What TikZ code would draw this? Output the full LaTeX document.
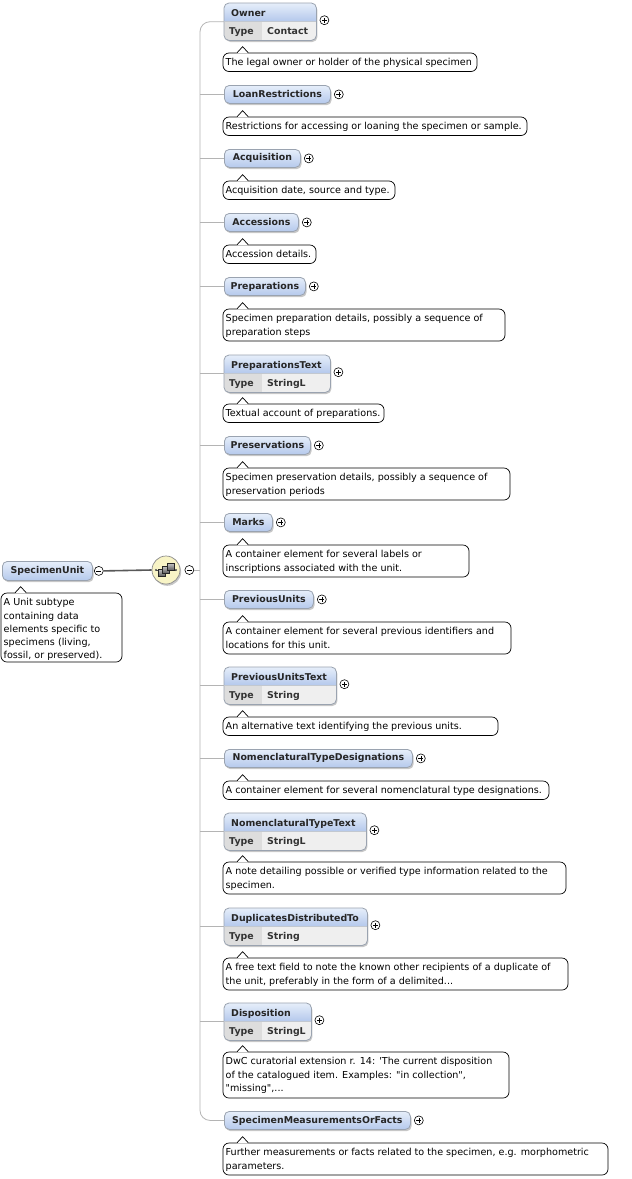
\documentclass[tikz,border=0pt]{standalone}
\usepackage{fontspec}
\setmainfont{DejaVu Sans}
\newfontfamily\btf{DejaVu Sans}
\usetikzlibrary{shadows,fit,calc}
\definecolor{hdrtop}{HTML}{E6EEFA}
\definecolor{hdrbot}{HTML}{B5C9EC}
\definecolor{hdrborder}{HTML}{9AA3B0}
\definecolor{typerow}{HTML}{EFEFEF}
\definecolor{typecell}{HTML}{DDDDDD}
\definecolor{conngray}{HTML}{B4B4B4}
\definecolor{seqfill}{HTML}{F8F4C6}
\newcommand\btextfont{\btf\fontsize{9.6}{13.3}\selectfont}
\newcommand\hfont{\fontsize{9.4}{11}\selectfont\bfseries}
\tikzset{
  x=1pt, y=-1pt,
  myshadow/.style={drop shadow={shadow xshift=1.2pt, shadow yshift=-1.8pt, fill=black, opacity=0.22}},
  hdr/.style={draw=hdrborder, line width=0.8pt, rounded corners=5pt, top color=hdrtop, bottom color=hdrbot,
    minimum height=18pt, inner sep=0pt, font=\hfont, text=black!85,
    anchor=north west, myshadow},
  hdrtwo/.style={fill=typerow, draw=none, rounded corners=5pt, minimum height=37pt, inner sep=0pt,
    anchor=north west, myshadow},
  hdrlabel/.style={anchor=base west, inner sep=0pt, font=\hfont, text=black!85},
  typelabel/.style={anchor=base west, inner sep=0pt, font=\hfont, text=black!80},
  pm/.style={circle, draw=black, line width=0.6pt, fill=white, minimum size=9pt, inner sep=0pt},
  bub/.style={draw=black, line width=0.7pt, rounded corners=6pt, inner sep=0pt},
  btext/.style={anchor=north west, inner sep=0pt, align=left, font=\btextfont},
  conn/.style={draw=conngray, line width=0.8pt},
  mainconn/.style={draw=black!65, line width=1.6pt},
  seqc/.style={circle, draw=black!45, line width=0.7pt, fill=seqfill, minimum size=28pt, inner sep=0pt, myshadow}
}
\newcommand\plusmark[1]{\draw[line width=0.6pt] ([xshift=-2.4pt]#1.center) -- ([xshift=2.4pt]#1.center) ([yshift=-2.4pt]#1.center) -- ([yshift=2.4pt]#1.center);}
\newcommand\minusmark[1]{\draw[line width=0.6pt] ([xshift=-2.4pt]#1.center) -- ([xshift=2.4pt]#1.center);}
\newcommand\elone[4]{%
  \node[hdr, minimum width=#3pt] (#1) at (224,#2) {#4};
  \node[pm] (#1p) at ([xshift=8pt]#1.east) {};
  \plusmark{#1p}}
\newcommand\eltwo[5]{%
  \node[hdrtwo, minimum width=#3pt] (#1) at (224,#2) {};
  \begin{scope}
    \clip[rounded corners=5pt] (#1.north west) rectangle (#1.south east);
    \shade[top color=hdrtop, bottom color=hdrbot] (#1.north west) rectangle ([yshift=-18pt]#1.north east);
    \fill[typecell] ([yshift=-18pt]#1.north west) rectangle ([xshift=38pt]#1.south west);
  \end{scope}
  \draw[hdrborder, line width=0.8pt, rounded corners=5pt] (#1.north west) rectangle (#1.south east);
  \draw[hdrborder!60, line width=0.5pt] ([yshift=-18pt]#1.north west) -- ([yshift=-18pt]#1.north east);
  \node[hdrlabel] (#1n) at ([xshift=7pt,yshift=-13pt]#1.north west) {#4};
  \node[typelabel] (#1k) at ([xshift=5pt,yshift=-31.5pt]#1.north west) {Type};
  \node[typelabel] (#1v) at ([xshift=43pt,yshift=-31.5pt]#1.north west) {#5};
  \node[pm] (#1p) at ([xshift=8pt,yshift=1.5pt]#1.east) {};
  \plusmark{#1p}}
% name, x, ytop, width, height, text
\newcommand\bubble[6]{%
  \node[btext] (#1t) at ({#2+2.5},{#3+3.2}) {\strut#6};
  \coordinate (#1o) at (#2,#3);
  \path let \p1=(#1t.east) in coordinate (#1c) at ({max(\x1+3.5,#2+#4)},{#3+#5});
  \node[bub, fit=(#1o)(#1c)] (#1) {};
  \fill[white] ([xshift=14.5pt,yshift=-0.8pt]#1.north west) -- ([xshift=20pt,yshift=6pt]#1.north west) -- ([xshift=25.5pt,yshift=-0.8pt]#1.north west) -- cycle;
  \draw[line width=0.7pt] ([xshift=14.5pt]#1.north west) -- ([xshift=20pt,yshift=6pt]#1.north west) -- ([xshift=25.5pt]#1.north west);}
\begin{document}
\begin{tikzpicture}
\useasboundingbox (0,0) rectangle (632,1179);
\fill[white] (0,0) rectangle (632,1179);

% root element
\node[hdr, minimum width=90pt, minimum height=19pt] (su) at (2,561) {SpecimenUnit};
\node[pm] (sum) at ([xshift=6pt]su.east) {};
\minusmark{sum}
\bubble{sud}{1}{593}{121}{69}{A Unit subtype\\containing data\\elements specific to\\specimens (living,\\fossil, or preserved).}

% sequence compositor
\node[seqc] (seq) at (166,570) {};
\draw[line width=0.9pt, black!70] ([xshift=-10pt]seq.center) -- ([xshift=10pt]seq.center);
\fill[black!70] ([xshift=-10pt]seq.center) circle (1.1pt) ([xshift=10pt]seq.center) circle (1.1pt);
\foreach \i in {0,1,2}
  \shade[top color=black!25, bottom color=black!65, draw=black!85, line width=0.5pt] ([xshift={-8+4.5*\i}, yshift={-6.5+3*\i}]seq.center) rectangle ++(7,-7);
\node[pm] (seqm) at ([xshift=9pt]seq.east) {};
\minusmark{seqm}
\coordinate (spine) at (200,570);

% children
\eltwo{owner}{3}{92}{Owner}{Contact}
\bubble{ownerd}{223}{53}{254}{18.5}{The legal owner or holder of the physical specimen}

\elone{loan}{85}{106}{LoanRestrictions}
\bubble{loand}{223}{117}{304}{18.5}{Restrictions for accessing or loaning the specimen or sample.}

\elone{acq}{149}{76}{Acquisition}
\bubble{acqd}{223}{181}{172}{18.5}{Acquisition date, source and type.}

\elone{acc}{213}{74}{Accessions}
\bubble{accd}{223}{245}{93}{18.5}{Accession details.}

\elone{prep}{277}{81}{Preparations}
\bubble{prepd}{223}{309}{282}{32}{Specimen preparation details, possibly a sequence of\\preparation steps}

\eltwo{prept}{355}{106}{PreparationsText}{StringL}
\bubble{preptd}{223}{404}{139}{18.5}{Textual account of preparations.}

\elone{pres}{436}{86}{Preservations}
\bubble{presd}{223}{468}{287}{32}{Specimen preservation details, possibly a sequence of\\preservation periods}

\elone{marks}{513}{48}{Marks}
\bubble{marksd}{223}{545}{246}{32}{A container element for several labels or\\inscriptions associated with the unit.}

\elone{prev}{590}{89}{PreviousUnits}
\bubble{prevd}{223}{622}{288}{32}{A container element for several previous identifiers and\\locations for this unit.}

\eltwo{prevt}{667}{112}{PreviousUnitsText}{String}
\bubble{prevtd}{223}{717}{275}{18.5}{An alternative text identifying the previous units.}

\elone{ntd}{749}{188}{NomenclaturalTypeDesignations}
\bubble{ntdd}{223}{781}{326}{18.5}{A container element for several nomenclatural type designations.}

\eltwo{ntt}{813}{142}{NomenclaturalTypeText}{StringL}
\bubble{nttd}{223}{862}{343}{32}{A note detailing possible or verified type information related to the\\specimen.}

\eltwo{ddt}{908}{143}{DuplicatesDistributedTo}{String}
\bubble{ddtd}{223}{958}{345}{32}{A free text field to note the known other recipients of a duplicate of\\the unit, preferably in the form of a delimited...}

\eltwo{disp}{1003}{87}{Disposition}{StringL}
\bubble{dispd}{223}{1052}{286}{46}{DwC curatorial extension r. 14: 'The current disposition\\of the catalogued item. Examples: "in collection",\\"missing",...}

\elone{smof}{1111}{186}{SpecimenMeasurementsOrFacts}
\bubble{smofd}{223}{1143}{385}{32}{Further measurements or facts related to the specimen, e.g. morphometric\\parameters.}

% connectors
\draw[mainconn] (sum.east) -- (seq.west);
\draw[conn] (seqm.east) -- (spine);
\draw[conn, rounded corners=10pt] (owner.west) -| (spine) |- (smof.west);
\foreach \n in {loan,acq,acc,prep,prept,pres,marks,prev,prevt,ntd,ntt,ddt,disp}
  \draw[conn] (\n.west) -- (\n.west -| spine);
\end{tikzpicture}
\end{document}
